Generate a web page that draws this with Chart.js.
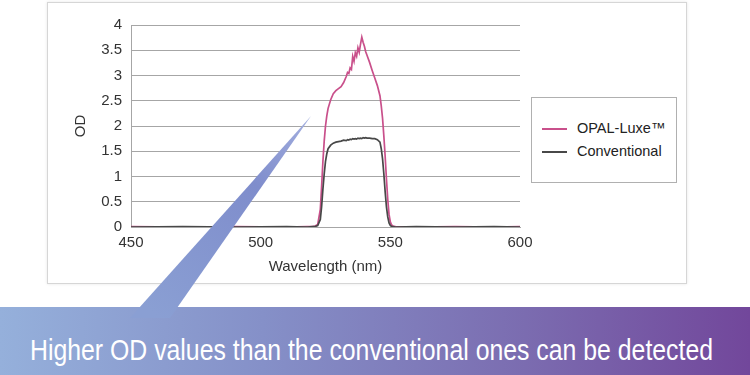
<!DOCTYPE html>
<html>
<head>
<meta charset="utf-8">
<script src="https://cdn.jsdelivr.net/npm/chart.js@4"></script>
<style>
  html, body { margin: 0; padding: 0; background: #fff; }
  body { width: 750px; height: 375px; position: relative; overflow: hidden; font-family: "Liberation Sans", Arial, sans-serif; }
  #frame { position: absolute; left: 47px; top: 2px; width: 638px; height: 280px; border: 1px solid #d6d6d6; box-shadow: 0 0 3px rgba(0,0,0,0.10); background: #fff; }
  #chartWrap { position: absolute; left: 0; top: 0; width: 750px; height: 375px; }
  #legend { position: absolute; left: 531px; top: 97px; width: 144px; height: 84px; border: 1px solid #b0b0b0; background: #fff; }
  .item { position: absolute; left: 10px; font-size: 14.5px; color: #222; white-space: nowrap; }
  .item span.swatch { display: inline-block; width: 25px; height: 2px; vertical-align: middle; margin-right: 10px; }
  #callout { position: absolute; left: 0; top: 0; }
  #banner { position: absolute; left: 0; top: 307px; width: 750px; height: 68px;
    background: linear-gradient(90deg, #95b0db 0%, #8590c8 35%, #7b6cb0 70%, #72479b 100%); }
  #bannerText { position: absolute; left: 30px; top: 333px; color: #fff; font-size: 29px; line-height: 34px; white-space: nowrap; transform-origin: 0 0; }
</style>
</head>
<body>
<div id="frame"></div>
<div id="chartWrap"><canvas id="odChart" width="750" height="375"></canvas></div>
<div id="legend"></div>
<div id="banner"></div>
<svg id="callout" width="750" height="375">
  <defs>
    <linearGradient id="tri" x1="311" y1="116" x2="150" y2="310" gradientUnits="userSpaceOnUse">
      <stop offset="0" stop-color="#a3afdf"/>
      <stop offset="0.35" stop-color="#7f8dcc"/>
      <stop offset="1" stop-color="#8a9fd3"/>
    </linearGradient>
  </defs>
  <polygon points="311,116 130,318 170,318" fill="url(#tri)"/>
</svg>
<div id="bannerText">Higher OD values than the conventional ones can be detected</div>

<script>
// wavelength grid (nm) shared by both spectra
const wavelengths = [450, 470, 490, 510, 518, 520, 521, 522, 523, 523.5, 524, 524.5, 525, 525.5, 526, 527, 528, 529, 530, 531,
  532, 533, 533.5, 534, 534.5, 535, 535.5, 536, 536.5, 537, 537.5, 538, 538.5, 539, 539.5, 540, 540.5, 541, 542, 543,
  544, 545, 546, 546.5, 547, 547.5, 548, 548.5, 549, 549.5, 550, 550.5, 551, 552, 560, 575, 590, 600];

// OD
const opalOD = [0.01, 0.00, 0.01, 0.00, 0.01, 0.01, 0.02, 0.05, 0.35, 0.8, 1.3, 1.7, 2.0, 2.2, 2.35, 2.52, 2.64, 2.7, 2.74, 2.78,
  2.86, 2.98, 3.06, 3.04, 3.15, 3.12, 3.38, 3.28, 3.45, 3.38, 3.55, 3.46, 3.62, 3.76, 3.66, 3.58, 3.47, 3.4, 3.26, 3.1,
  2.95, 2.8, 2.6, 2.4, 2.15, 1.8, 1.4, 0.95, 0.55, 0.25, 0.1, 0.04, 0.02, 0.01, 0.0, 0.01, 0.0, 0.01];

const convOD = [0.0, 0.01, 0.0, 0.01, 0.0, 0.01, 0.01, 0.03, 0.15, 0.4, 0.75, 1.05, 1.3, 1.45, 1.55, 1.62, 1.66, 1.68, 1.69, 1.7,
  1.72, 1.71, 1.73, 1.72, 1.74, 1.73, 1.75, 1.74, 1.75, 1.74, 1.76, 1.75, 1.76, 1.75, 1.77, 1.76, 1.77, 1.76, 1.76, 1.75,
  1.75, 1.73, 1.68, 1.55, 1.35, 1.05, 0.7, 0.4, 0.2, 0.08, 0.03, 0.01, 0.01, 0.0, 0.01, 0.0, 0.01, 0.0];

const seriesNames = ["OPAL-Luxe™", "Conventional"];
const seriesColors = ["#c9508b", "#484848"];

const xTicks = [450, 500, 550, 600];
const yMax = 4;

function toPoints(ys) {
    return wavelengths.map((x, i) => ({ x: x, y: ys[i] }));
}

const tickFont = { family: "'Liberation Sans', Arial, sans-serif", size: 15 };

const chart = new Chart(document.getElementById("odChart"), {
    type: "line",
    data: {
        datasets: [
            { label: seriesNames[0], data: toPoints(opalOD), borderColor: seriesColors[0], borderWidth: 1.7, pointRadius: 0, tension: 0, order: 1 },
            { label: seriesNames[1], data: toPoints(convOD), borderColor: seriesColors[1], borderWidth: 1.7, pointRadius: 0, tension: 0, order: 0 }
        ]
    },
    options: {
        responsive: false,
        animation: false,
        layout: { padding: { left: 70, top: 25, right: 230, bottom: 93 } },
        plugins: { legend: { display: false }, tooltip: { enabled: false } },
        scales: {
            x: {
                type: "linear",
                min: xTicks[0],
                max: xTicks[xTicks.length - 1],
                afterBuildTicks: s => { s.ticks = xTicks.map(v => ({ value: v })); },
                afterFit: s => { s.height = 55; },
                grid: { display: false, drawTicks: false },
                border: { color: "#a6a6a6" },
                ticks: { padding: 7, color: "#333", font: tickFont, maxRotation: 0 },
                title: { display: true, text: "Wavelength (nm)", color: "#333", font: tickFont, padding: { top: 4, bottom: 6 } }
            },
            y: {
                min: 0,
                max: yMax,
                afterFit: s => { s.width = 61; },
                grid: { color: "#a6a6a6", lineWidth: 1, drawTicks: false },
                border: { color: "#a6a6a6" },
                ticks: { stepSize: 0.5, padding: 9, color: "#333", font: tickFont, callback: v => String(v) },
                title: { display: true, text: "OD", color: "#333", font: tickFont, padding: { top: 2, bottom: 4 } }
            }
        }
    }
});

// legend from the dataset names/colours
const legend = document.getElementById("legend");
legend.innerHTML = seriesNames.map((name, i) =>
    `<div class="item" style="top:${22 + i * 23}px"><span class="swatch" style="background:${seriesColors[i]}"></span>${name}</div>`
).join("");

// squeeze banner text to the width seen in the reference
const bt = document.getElementById("bannerText");
const w = bt.getBoundingClientRect().width;
bt.style.transform = `scaleX(${683 / w})`;
</script>
</body>
</html>
